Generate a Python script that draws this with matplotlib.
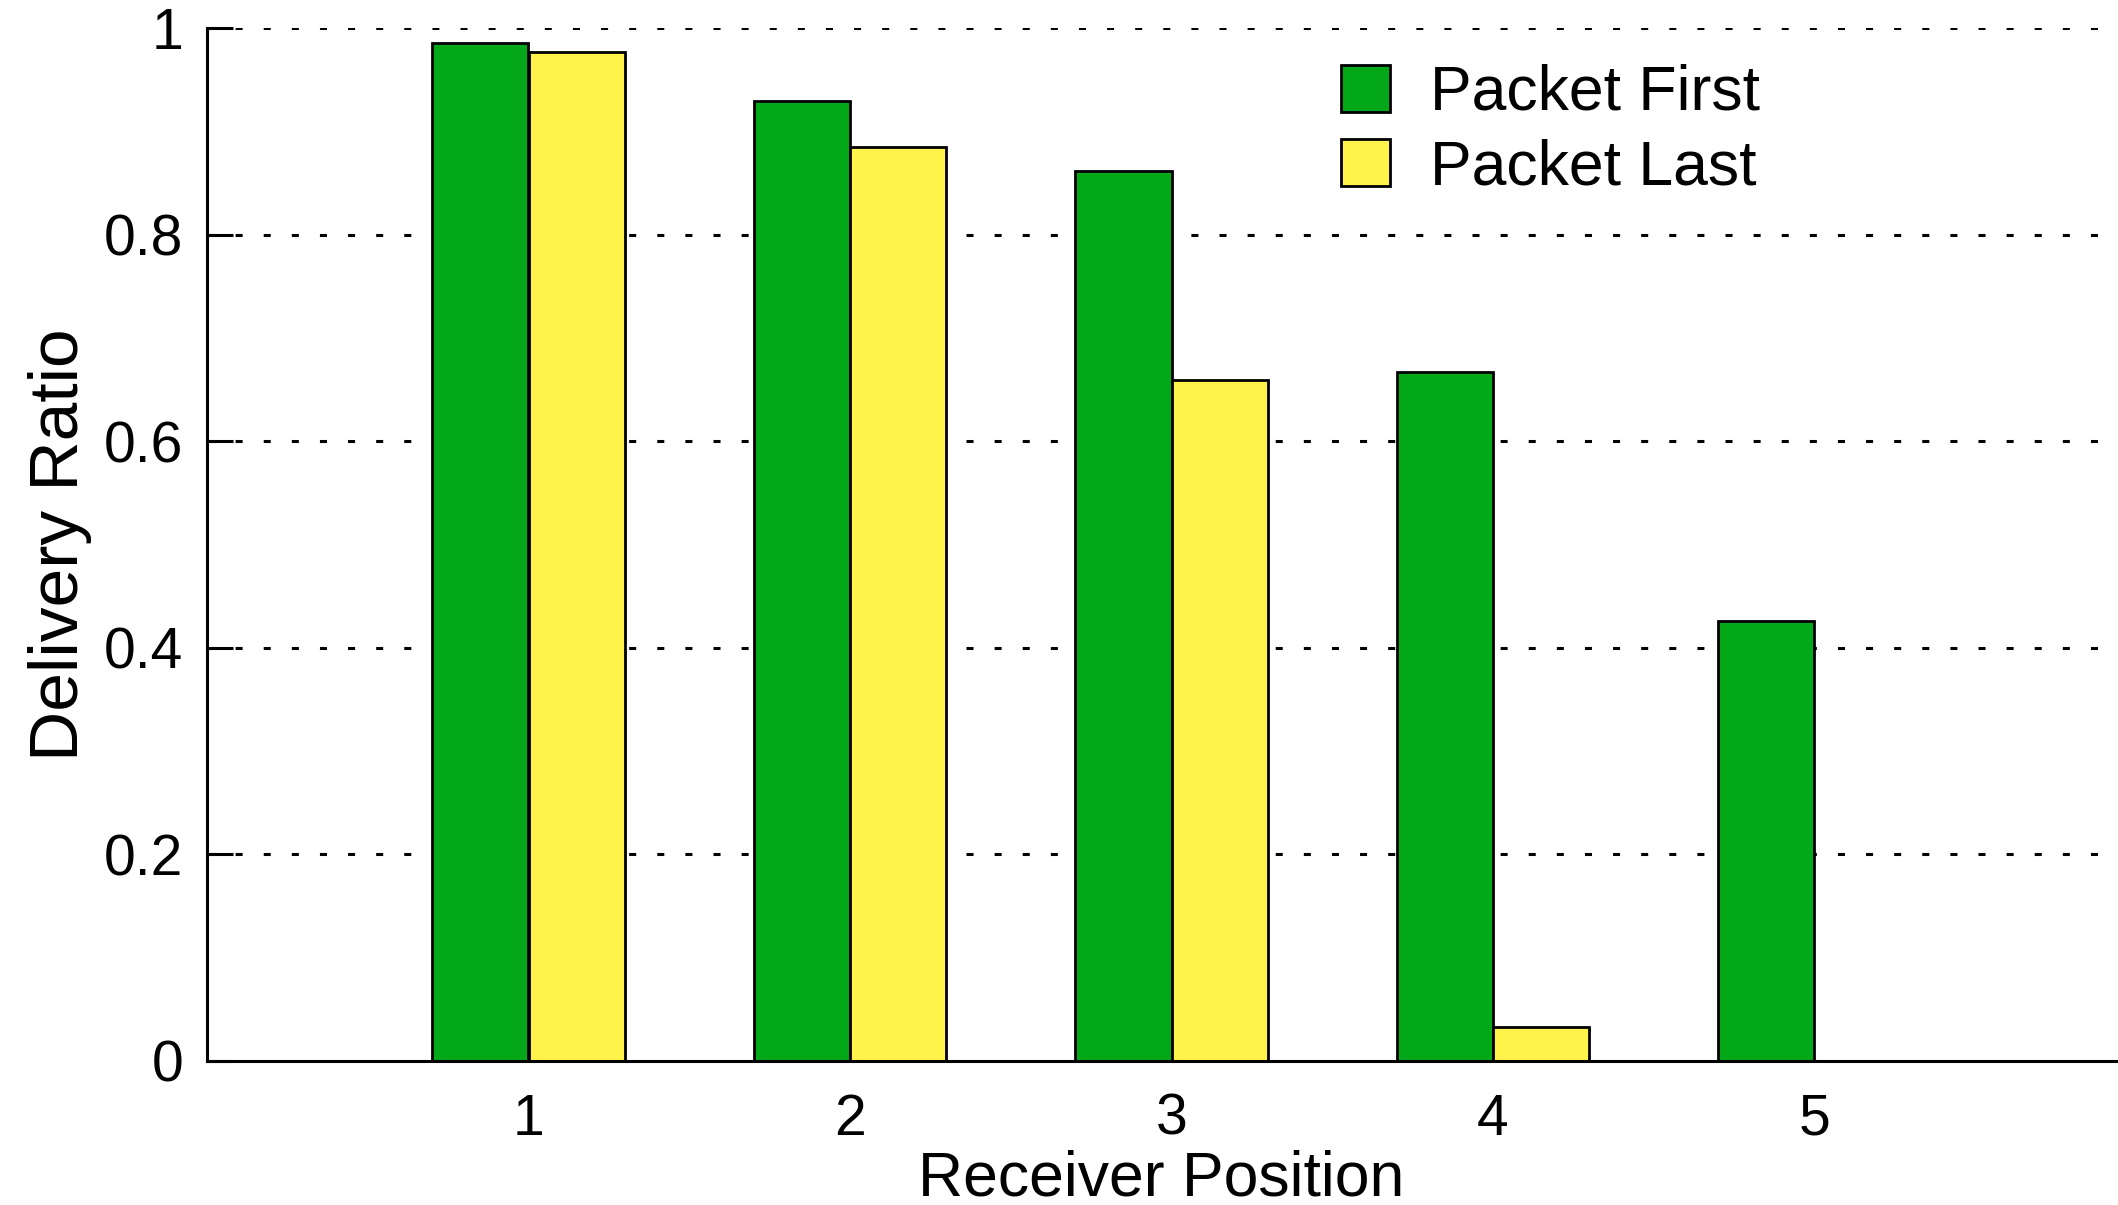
import matplotlib
matplotlib.use("Agg")
import matplotlib.pyplot as plt
import numpy as np

positions = [1, 2, 3, 4, 5]
tick_labels = ["1", "2", "3", "4", "5"]
packet_first = [0.985, 0.929, 0.862, 0.667, 0.426]
packet_last = [0.977, 0.885, 0.659, 0.033, 0.0]
series_names = ["Packet First", "Packet Last"]
yticks = [0, 0.2, 0.4, 0.6, 0.8, 1.0]
ytick_labels = ["0", "0.2", "0.4", "0.6", "0.8", "1"]

green = "#02a818"
yellow = "#fff24a"

plt.rcParams['font.family'] = ['Liberation Sans', 'DejaVu Sans']

W, H = 2118, 1205
fig = plt.figure(figsize=(W / 100, H / 100), dpi=100)
ax_left = 207 / W
ax_bottom = (H - 1061) / H
ax_top = 1 - 28 / H
ax = fig.add_axes([ax_left, ax_bottom, 1 - ax_left, ax_top - ax_bottom])

x = np.array(positions, dtype=float)
bw = 0.3
ax.bar(x - bw / 2, packet_first, width=bw, color=green, edgecolor="black",
       linewidth=2.0, label=series_names[0], zorder=3)
ax.bar(x + bw / 2, packet_last, width=bw, color=yellow, edgecolor="black",
       linewidth=2.0, label=series_names[1], zorder=3)

xmax = (W - 207) / 321.5
ax.set_xlim(0, xmax)
ax.set_ylim(0, 1)

for yv in yticks[1:]:
    ax.axhline(yv, color="black", linewidth=2.2, linestyle=(0, (2.3, 6.9)), zorder=1)

ax.set_xticks(positions)
ax.set_xticklabels(tick_labels)
ax.set_yticks(yticks)
ax.set_yticklabels(ytick_labels)
ax.tick_params(axis="x", length=0, pad=23, labelsize=41)
ax.tick_params(axis="y", direction="in", length=19, width=2.2, pad=17, labelsize=41)

for s in ["top", "right"]:
    ax.spines[s].set_visible(False)
for s in ["left", "bottom"]:
    ax.spines[s].set_linewidth(2.2)
    ax.spines[s].set_zorder(4)

ax.set_xlabel("Receiver Position", fontsize=45)
ax.xaxis.set_label_coords(0.4992, (1061 - 1149) / 1033)
ax.set_ylabel("Delivery Ratio", fontsize=50)
ax.yaxis.set_label_coords((92 - 207) / (W - 207), 0.5)

leg = ax.legend(loc="upper left", bbox_to_anchor=(1341 / W, 1 - 64 / H),
                bbox_transform=fig.transFigure, frameon=False, fontsize=45,
                handlelength=0.78, handleheight=0.78, handletextpad=0.65,
                labelspacing=0.25, borderpad=0, borderaxespad=0)

fig.savefig("out.png", dpi=100)
